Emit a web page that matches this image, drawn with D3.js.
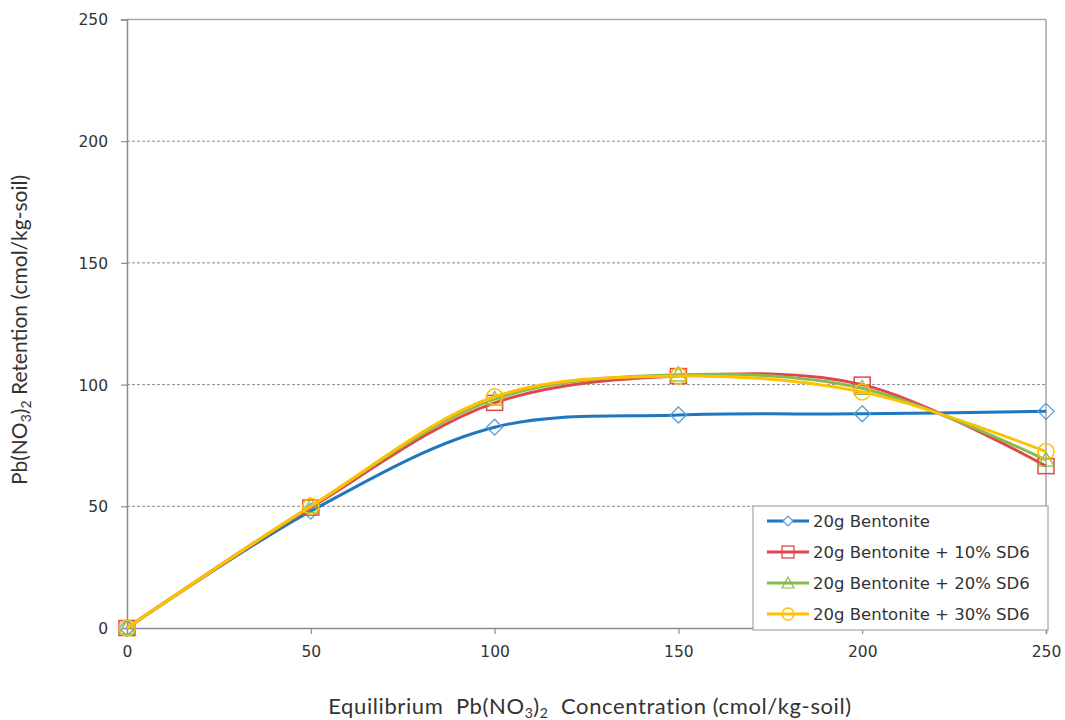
<!DOCTYPE html>
<html><head><meta charset="utf-8">
<script src="https://cdn.jsdelivr.net/npm/d3@7"></script>
<style>body{margin:0;background:#fff}</style>
</head><body>
<svg id="c" width="1065" height="720"></svg>
<script>
const xValues = [0, 50, 100, 150, 200, 250];
const seriesNames = ["20g Bentonite", "20g Bentonite + 10% SD6", "20g Bentonite + 20% SD6", "20g Bentonite + 30% SD6"];
const bentonite = [0, 48, 82.5, 87.5, 88, 89];
const sd6_10 = [0, 49.5, 92.5, 103.5, 100, 66.5];
const sd6_20 = [0, 50, 94, 104, 98.5, 69];
const sd6_30 = [0, 50, 95, 103.5, 97, 72.5];
const xTicks = [0, 50, 100, 150, 200, 250];
const yTicks = [0, 50, 100, 150, 200, 250];

const seriesValues = [bentonite, sd6_10, sd6_20, sd6_30];
const lineColors = ["#1f77c0", "#e0474c", "#86bc4b", "#ffc000"];
const markColors = ["#5b9bd5", "#e0474c", "#86bc4b", "#ffc000"];
const shapes = ["diamond", "square", "triangle", "circle"];

const svg = d3.select("#c");
const L = 127, R = 1046, T = 19.5, B = 628;
const x = d3.scaleLinear().domain([0, 250]).range([L, R]);
const y = d3.scaleLinear().domain([0, 250]).range([B, T]);
const axisColor = "#8c8c8c";
const tickFont = "Verdana, 'DejaVu Sans', sans-serif";

// gridlines
svg.append("g").selectAll("line").data(yTicks.filter(d => d > 0 && d < 250)).join("line")
  .attr("x1", L).attr("x2", R).attr("y1", d => y(d)).attr("y2", d => y(d))
  .attr("stroke", "#8a8a8a").attr("stroke-width", 1).attr("stroke-dasharray", "3,2");

// frame top & right
svg.append("line").attr("x1", L).attr("x2", R).attr("y1", T).attr("y2", T).attr("stroke", "#a6a6a6").attr("stroke-width", 1.5);
svg.append("line").attr("x1", R).attr("x2", R).attr("y1", T).attr("y2", B).attr("stroke", "#a6a6a6").attr("stroke-width", 1.5);

// axes
const yAxis = svg.append("g").attr("transform", `translate(${L},0)`)
  .call(d3.axisLeft(y).tickValues(yTicks).tickSize(6).tickPadding(13).tickFormat(d3.format("d")));
const xAxis = svg.append("g").attr("transform", `translate(0,${B})`)
  .call(d3.axisBottom(x).tickValues(xTicks).tickSize(6).tickPadding(12).tickFormat(d3.format("d")));
[yAxis, xAxis].forEach(a => {
  a.select(".domain").attr("stroke", axisColor).attr("stroke-width", 1.5);
  a.selectAll(".tick line").attr("stroke", axisColor).attr("stroke-width", 1.2);
  a.selectAll(".tick text").attr("fill", "#333").style("font-family", tickFont).style("font-size", "15.5px");
});
xAxis.select(".tick line").attr("opacity", 0);
yAxis.selectAll(".tick text").attr("dy", "0.35em");

// lines
const line = d3.line().x(d => x(d[0])).y(d => y(d[1])).curve(d3.curveCatmullRom.alpha(0.5));
function marker(g, shape, cx, cy, color) {
  if (shape === "diamond") {
    g.append("path").attr("d", `M${cx},${cy-8}L${cx+8},${cy}L${cx},${cy+8}L${cx-8},${cy}Z`)
      .attr("fill", "none").attr("stroke", color).attr("stroke-width", 1.3);
  } else if (shape === "square") {
    g.append("rect").attr("x", cx-8).attr("y", cy-7.5).attr("width", 16).attr("height", 15)
      .attr("fill", "none").attr("stroke", color).attr("stroke-width", 1.5);
  } else if (shape === "triangle") {
    g.append("path").attr("d", `M${cx},${cy-8}L${cx+8},${cy+6}L${cx-8},${cy+6}Z`)
      .attr("fill", "none").attr("stroke", color).attr("stroke-width", 1.3);
  } else {
    g.append("circle").attr("cx", cx).attr("cy", cy).attr("r", 8)
      .attr("fill", "none").attr("stroke", color).attr("stroke-width", 1.5);
  }
}
seriesValues.forEach((vals, i) => {
  const pts = xValues.map((xv, j) => [xv, vals[j]]);
  const g = svg.append("g");
  g.append("path").attr("d", line(pts)).attr("fill", "none").attr("stroke", lineColors[i]).attr("stroke-width", 3);
  pts.forEach(p => marker(g, shapes[i], x(p[0]), y(p[1]), markColors[i]));
});

// legend
const lg = svg.append("g");
lg.append("rect").attr("x", 753).attr("y", 506).attr("width", 295).attr("height", 124)
  .attr("fill", "#fff").attr("stroke", "#a6a6a6").attr("stroke-width", 1.2);
const rowY = [521, 552, 583, 614];
seriesNames.forEach((n, i) => {
  const gy = rowY[i];
  lg.append("line").attr("x1", 767).attr("x2", 809).attr("y1", gy).attr("y2", gy).attr("stroke", lineColors[i]).attr("stroke-width", 3);
  const g = lg.append("g");
  const c = markColors[i];
  if (shapes[i] === "diamond") g.append("path").attr("d", `M788,${gy-5}L793,${gy}L788,${gy+5}L783,${gy}Z`).attr("fill", "#fff").attr("stroke", c).attr("stroke-width", 1.2);
  else if (shapes[i] === "square") g.append("rect").attr("x", 782).attr("y", gy-6).attr("width", 12).attr("height", 12).attr("fill", "none").attr("stroke", c).attr("stroke-width", 1.3);
  else if (shapes[i] === "triangle") g.append("path").attr("d", `M788,${gy-6}L794,${gy+5}L782,${gy+5}Z`).attr("fill", "none").attr("stroke", c).attr("stroke-width", 1.2);
  else g.append("circle").attr("cx", 788).attr("cy", gy).attr("r", 6).attr("fill", "none").attr("stroke", c).attr("stroke-width", 1.3);
  lg.append("text").attr("x", 813).attr("y", gy).attr("dy", "0.35em").text(n)
    .style("font-family", tickFont).style("font-size", "16.5px").attr("fill", "#333");
});

// axis titles
const titleFont = "Lato, 'Open Sans', sans-serif";
const xt = svg.append("text").attr("x", 590).attr("y", 714).attr("text-anchor", "middle")
  .attr("xml:space", "preserve")
  .style("font-family", titleFont).style("font-size", "22px").style("letter-spacing", "0.6px")
  .attr("fill", "#333").style("white-space", "pre");
xt.append("tspan").text("Equilibrium  Pb(NO");
xt.append("tspan").attr("dy", 4).style("font-size", "14px").text("3");
xt.append("tspan").attr("dy", -4).text(")");
xt.append("tspan").attr("dy", 4).style("font-size", "14px").text("2");
xt.append("tspan").attr("dy", -4).text("  Concentration (cmol/kg-soil)");

const yt = svg.append("text").attr("transform", "translate(27,330) rotate(-90)").attr("text-anchor", "middle")
  .style("font-family", titleFont).style("font-size", "21px").attr("fill", "#333");
yt.append("tspan").text("Pb(NO");
yt.append("tspan").attr("dy", 4).style("font-size", "14px").text("3");
yt.append("tspan").attr("dy", -4).text(")");
yt.append("tspan").attr("dy", 4).style("font-size", "14px").text("2");
yt.append("tspan").attr("dy", -4).text(" Retention (cmol/kg-soil)");
</script>
</body></html>
